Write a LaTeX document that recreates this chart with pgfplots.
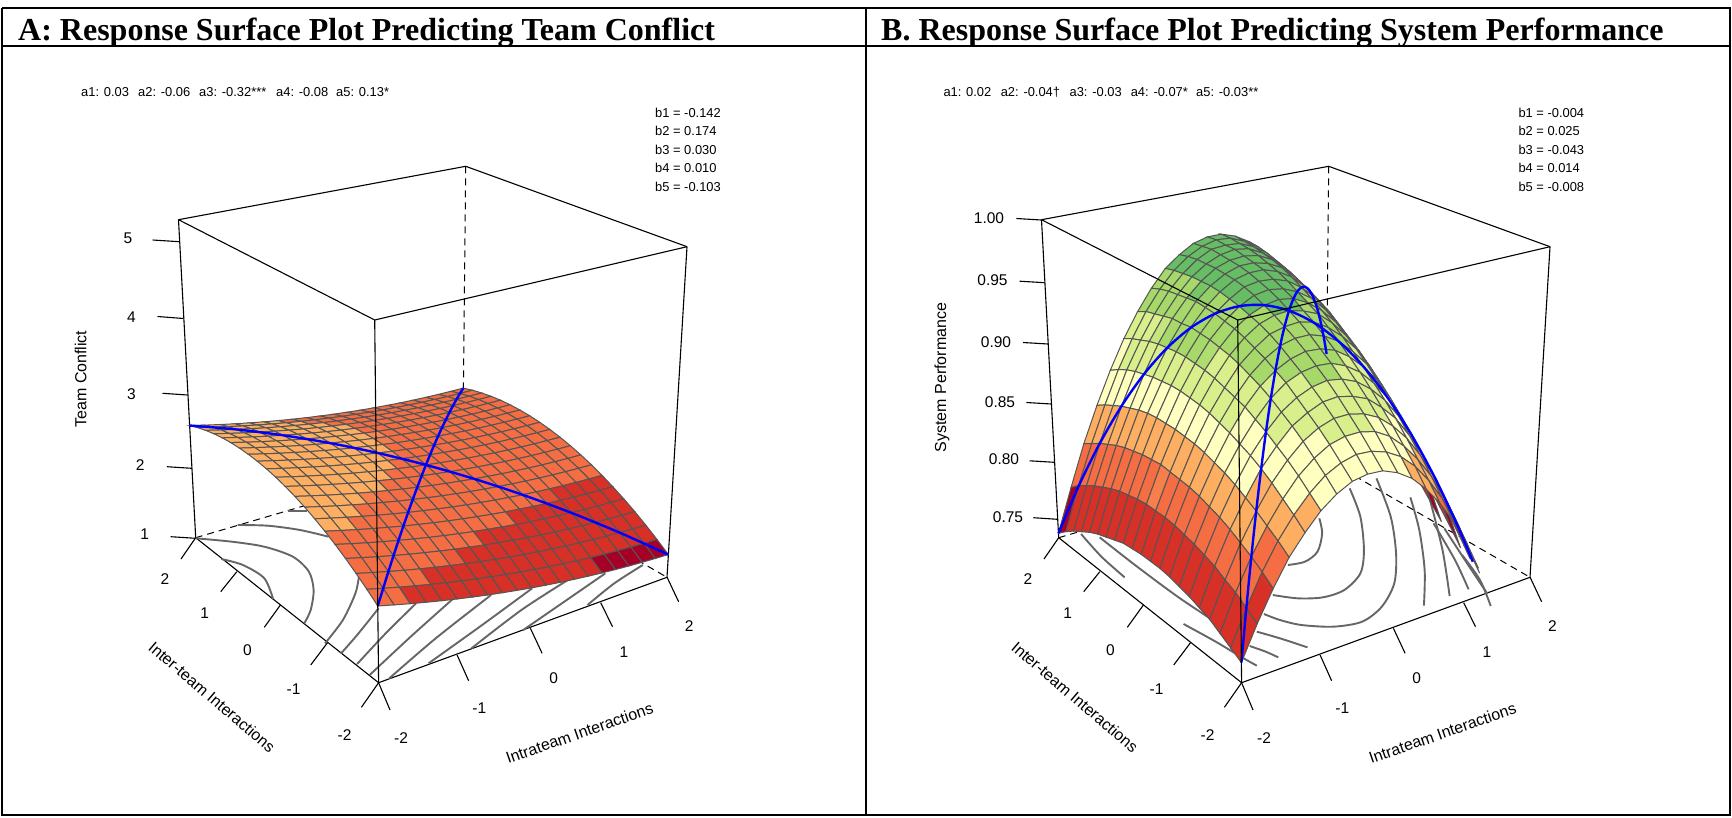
\documentclass[border=0pt]{standalone}
\usepackage{pgfplots}
\usepackage{graphicx}
\usepackage{fontspec}
\pgfplotsset{compat=1.18}
\setmainfont{Liberation Sans}
\newfontfamily\tit{Liberation Serif}
\newcommand\PX[3]{((486.4+91.375*(#1)-37.475*(#2)-33.9*(#3))/(1.14215+0.0289*(#1)+0.042175*(#2)-0.08*(#3)))}
\newcommand\PY[3]{((636.25-9.65*(#1)-13.575*(#2)-388.3*(#3))/(1.14215+0.0289*(#1)+0.042175*(#2)-0.08*(#3)))}
\newcommand\gu{(2-0.2*(\coordindex-21*floor((\coordindex+0.5)/21)))}
\newcommand\gv{(2-0.2*floor((\coordindex+0.5)/21))}
\newcommand\wA{((\thisrowno{0}-1)/4.27)}
\newcommand\wB{((\thisrowno{0}-0.734)/0.266)}
\newcommand\lwA{((\thisrowno{2}-1)/4.27)}
\newcommand\lwB{((\thisrowno{2}-0.734)/0.266)}
\definecolor{cont}{HTML}{666666}
\definecolor{facet}{HTML}{555555}
\pgfplotsset{
  rsa/.style={surf,shader=faceted,faceted color=facet,line width=1pt,mesh/rows=21,
    unbounded coords=jump,
    colormap={rsamap}{rgb255(0cm)=(165,0,38) rgb255(0.98cm)=(165,0,38) rgb255(1cm)=(215,48,39) rgb255(1.98cm)=(215,48,39) rgb255(2cm)=(244,109,67) rgb255(2.98cm)=(244,109,67) rgb255(3cm)=(253,174,97) rgb255(3.98cm)=(253,174,97) rgb255(4cm)=(255,255,191) rgb255(4.98cm)=(255,255,191) rgb255(5cm)=(217,239,139) rgb255(5.98cm)=(217,239,139) rgb255(6cm)=(166,217,106) rgb255(6.98cm)=(166,217,106) rgb255(7cm)=(102,189,99) rgb255(7.98cm)=(102,189,99) rgb255(8cm)=(26,152,80) rgb255(9cm)=(26,152,80)}},
  k/.style={draw=black,line width=1.1pt,no marks},
  ct/.style={draw=cont,line width=1.9pt,no marks,smooth},
  blueline/.style={draw=blue,line width=2.4pt,no marks,smooth},
}
\tikzset{lbl/.style={inner sep=0pt,font=\fontsize{15.5}{16}\selectfont},
 ann/.style={inner sep=0pt,anchor=base west,font=\fontsize{12.9}{13}\selectfont},
 axl/.style={inner sep=0pt,font=\fontsize{16}{17}\selectfont}}
\newcommand\boxback[1]{
 \addplot[k,x filter/.expression={x+#1}] coordinates {(178.5,219.7)(465.7,166.3)(687,246.7)};
 \addplot[k,x filter/.expression={x+#1},dash pattern=on 7pt off 5pt,line width=1pt] coordinates {(465.7,166.3)(462.7,459.2)};
 \addplot[k,x filter/.expression={x+#1},dash pattern=on 7pt off 5pt,line width=1pt] coordinates {(195.7,537.7)(462.7,459.2)(667,577.3)};
 \addplot[k,x filter/.expression={x+#1}] coordinates {(178.5,219.7)(195.7,537.7)(378.6,682.7)(667,577.3)(687,246.7)};
 \addplot[k,x filter/.expression={x+#1}] coordinates {(378.6,682.7)(390,710)};
 \addplot[k,x filter/.expression={x+#1}] coordinates {(457.1,655)(468.6,680.7)};
 \addplot[k,x filter/.expression={x+#1}] coordinates {(530.4,628.3)(542.1,653.3)};
 \addplot[k,x filter/.expression={x+#1}] coordinates {(600.7,602.7)(612.5,626.7)};
 \addplot[k,x filter/.expression={x+#1}] coordinates {(667.1,577.3)(678.6,601.7)};
 \addplot[k,x filter/.expression={x+#1}] coordinates {(378.6,682.7)(361.4,707.3)};
 \addplot[k,x filter/.expression={x+#1}] coordinates {(327.5,642.7)(310.7,665)};
 \addplot[k,x filter/.expression={x+#1}] coordinates {(280.4,605)(264.3,627.3)};
 \addplot[k,x filter/.expression={x+#1}] coordinates {(236.8,571.7)(220.7,591.7)};
 \addplot[k,x filter/.expression={x+#1}] coordinates {(195.7,537.7)(181,559)};
}
\newcommand\boxfront[1]{
 \addplot[k,x filter/.expression={x+#1}] coordinates {(178.5,219.7)(374.7,320)(687,246.7)};
 \addplot[k,x filter/.expression={x+#1}] coordinates {(374.7,320)(378.6,682.7)};
}
\newcommand\floorlabels[1]{
 \node[lbl,xshift=#1] at (axis cs:401,738) {-2};
 \node[lbl,xshift=#1] at (axis cs:479.3,707.7) {-1};
 \node[lbl,xshift=#1] at (axis cs:553.6,678.3) {0};
 \node[lbl,xshift=#1] at (axis cs:623.9,651.7) {1};
 \node[lbl,xshift=#1] at (axis cs:689.3,626) {2};
 \node[lbl,xshift=#1] at (axis cs:344.6,734.6) {-2};
 \node[lbl,xshift=#1] at (axis cs:293.6,689.3) {-1};
 \node[lbl,xshift=#1] at (axis cs:247.5,650) {0};
 \node[lbl,xshift=#1] at (axis cs:204.6,613.3) {1};
 \node[lbl,xshift=#1] at (axis cs:165,579.3) {2};
 \node[axl,xshift=#1,rotate=-40.5] at (axis cs:212,697) {Inter-team Interactions};
 \node[axl,xshift=#1,rotate=19.3] at (axis cs:579.5,733) {Intrateam Interactions};
}
\begin{document}
\begin{tikzpicture}
\begin{axis}[width=1732pt,height=817pt,scale only axis,hide axis,clip=false,
  xmin=0,xmax=1732,ymin=0,ymax=817,y dir=reverse,enlargelimits=false]
\path (axis cs:0,0) rectangle (axis cs:1732,817);
% frame
\addplot[k,line width=1.6pt] coordinates {(2,8)(1730,8)(1730,815)(2,815)(2,8)};
\addplot[k,line width=1.6pt] coordinates {(2,46)(1730,46)};
\addplot[k,line width=1.6pt] coordinates {(866,8)(866,815)};
% ---------- panel A
\boxback{0}
\addplot[k] coordinates {(152.7,240)(179.3,241.7)};
\addplot[k] coordinates {(157.5,316.5)(183.5,318.5)};
\addplot[k] coordinates {(162.5,393.3)(187.5,395)};
\addplot[k] coordinates {(166.8,466.7)(191.8,468.3)};
\addplot[k] coordinates {(170.7,536.7)(195.7,538.3)};
\addplot[ct] coordinates {(221.4,559)(242.9,565)(264.3,578.3)(273.2,599.3)};
\addplot[ct] coordinates {(195.7,538.3)(232,541.7)(264.3,546.7)(292.9,556.7)(308.9,571.7)(313.6,590)(310.7,610)(304.3,623.3)};
\addplot[ct] coordinates {(237.5,525)(267.9,525.7)(300,530)(328.6,536.7)};
\addplot[ct] coordinates {(287.5,510.7)(307,510.7)};
\addplot[ct] coordinates {(358.9,576.7)(355.4,593.3)(342.9,620)(325,643.3)};
\addplot[ct,x filter/.expression={150+x/2.8},y filter/.expression={360+y/3}] coordinates {(640,745)(580,825)(535,880)};
\addplot[ct,x filter/.expression={150+x/2.8},y filter/.expression={360+y/3}] coordinates {(745,730)(660,820)(580,912)};
\addplot[ct,x filter/.expression={150+x/2.8},y filter/.expression={360+y/3}] coordinates {(850,715)(730,830)(615,945)};
\addplot[ct,x filter/.expression={150+x/2.8},y filter/.expression={360+y/3}] coordinates {(955,705)(800,835)(670,955)};
\addplot[ct,x filter/.expression={150+x/2.8},y filter/.expression={360+y/3}] coordinates {(1070,685)(930,795)(780,910)};
\addplot[ct,x filter/.expression={150+x/2.8},y filter/.expression={360+y/3}] coordinates {(1170,660)(1040,750)(900,865)};
\addplot[ct,x filter/.expression={150+x/2.8},y filter/.expression={360+y/3}] coordinates {(1275,640)(1160,725)(1045,810)};
\addplot[ct,x filter/.expression={150+x/2.8},y filter/.expression={360+y/3}] coordinates {(1380,615)(1300,670)(1225,735)};
\addplot[rsa,point meta={(\thisrowno{0}-1)/0.457},point meta min=0,point meta max=9] table[header=false,
  x expr={\PX{\gu}{\gv}{\wA}},y expr={\PY{\gu}{\gv}{\wA}}] {
2.092
2.094
2.098
2.104
2.113
2.124
2.138
2.154
2.172
2.193
2.216
2.242
2.270
2.300
2.333
2.368
2.406
2.446
2.488
2.533
2.580
2.132
2.134
2.138
2.145
2.154
2.166
2.180
2.196
2.215
2.236
2.260
2.286
2.314
2.345
2.378
2.414
2.452
2.492
2.535
2.580
2.628
2.163
2.165
2.170
2.177
2.187
2.199
2.213
2.230
2.249
2.271
2.295
2.321
2.350
2.381
2.415
2.451
2.489
2.530
2.573
2.619
2.667
2.186
2.189
2.194
2.201
2.211
2.224
2.239
2.256
2.275
2.297
2.322
2.349
2.378
2.409
2.443
2.480
2.519
2.560
2.603
2.649
2.698
2.201
2.204
2.209
2.217
2.228
2.241
2.256
2.273
2.293
2.316
2.341
2.368
2.397
2.429
2.464
2.501
2.540
2.581
2.625
2.672
2.721
2.207
2.211
2.217
2.225
2.236
2.249
2.265
2.283
2.303
2.326
2.351
2.379
2.409
2.441
2.476
2.513
2.553
2.595
2.639
2.686
2.735
2.205
2.209
2.216
2.225
2.236
2.249
2.265
2.284
2.305
2.328
2.353
2.381
2.412
2.445
2.480
2.517
2.557
2.600
2.645
2.692
2.741
2.195
2.200
2.207
2.216
2.227
2.241
2.258
2.277
2.298
2.321
2.347
2.376
2.407
2.440
2.475
2.513
2.554
2.597
2.642
2.689
2.739
2.177
2.182
2.189
2.199
2.211
2.225
2.242
2.261
2.283
2.307
2.333
2.362
2.393
2.427
2.463
2.501
2.542
2.585
2.631
2.679
2.729
2.151
2.156
2.164
2.174
2.186
2.201
2.218
2.238
2.260
2.284
2.311
2.340
2.372
2.406
2.442
2.481
2.522
2.566
2.612
2.660
2.711
2.116
2.122
2.130
2.140
2.153
2.168
2.186
2.206
2.228
2.253
2.280
2.310
2.342
2.376
2.413
2.452
2.494
2.538
2.584
2.633
2.684
2.073
2.079
2.088
2.098
2.112
2.127
2.145
2.166
2.188
2.214
2.241
2.271
2.304
2.338
2.376
2.415
2.457
2.502
2.548
2.598
2.649
2.022
2.028
2.037
2.048
2.062
2.078
2.096
2.117
2.140
2.166
2.194
2.224
2.257
2.292
2.330
2.370
2.412
2.457
2.504
2.554
2.606
1.963
1.969
1.979
1.990
2.004
2.021
2.039
2.061
2.084
2.110
2.139
2.169
2.203
2.238
2.276
2.317
2.359
2.405
2.452
2.502
2.555
1.895
1.902
1.912
1.924
1.938
1.955
1.974
1.996
2.020
2.046
2.075
2.106
2.140
2.176
2.214
2.255
2.298
2.344
2.392
2.442
2.495
1.819
1.827
1.837
1.849
1.864
1.881
1.901
1.923
1.947
1.974
2.003
2.035
2.069
2.105
2.144
2.185
2.229
2.275
2.323
2.374
2.427
1.735
1.743
1.753
1.766
1.781
1.799
1.819
1.841
1.866
1.893
1.923
1.955
1.989
2.026
2.065
2.107
2.151
2.197
2.246
2.297
2.351
1.643
1.651
1.662
1.675
1.691
1.709
1.729
1.752
1.777
1.805
1.835
1.867
1.902
1.939
1.979
2.021
2.065
2.112
2.161
2.213
2.267
1.542
1.551
1.562
1.576
1.592
1.610
1.631
1.654
1.680
1.708
1.738
1.771
1.806
1.844
1.884
1.926
1.971
2.018
2.068
2.120
2.174
1.433
1.442
1.454
1.468
1.484
1.503
1.524
1.548
1.574
1.602
1.633
1.666
1.702
1.740
1.780
1.823
1.868
1.916
1.966
2.018
2.073
1.316
1.326
1.338
1.352
1.369
1.388
1.410
1.434
1.460
1.489
1.520
1.554
1.590
1.628
1.669
1.712
1.758
1.806
1.856
1.909
1.964
};
\addplot[blueline] table[header=false,x expr={\PX{\thisrowno{0}}{\thisrowno{1}}{\lwA}},y expr={\PY{\thisrowno{0}}{\thisrowno{1}}{\lwA}}] {
-2 -2 1.964
-1.6 -1.6 2.0675
-1.2 -1.2 2.1509
-0.8 -0.8 2.2141
-0.4 -0.4 2.2571
0 0 2.28
0.4 0.4 2.2827
0.8 0.8 2.2653
1.2 1.2 2.2277
1.6 1.6 2.1699
2 2 2.092
};
\addplot[blueline] table[header=false,x expr={\PX{\thisrowno{0}}{\thisrowno{1}}{\lwA}},y expr={\PY{\thisrowno{0}}{\thisrowno{1}}{\lwA}}] {
-2 2 2.58
-1.6 1.6 2.5731
-1.2 1.2 2.5397
-0.8 0.8 2.4797
-0.4 0.4 2.3931
0 0 2.28
0.4 -0.4 2.1403
0.8 -0.8 1.9741
1.2 -1.2 1.7813
1.6 -1.6 1.5619
2 -2 1.316
};
\boxfront{0}
% ---------- panel B
\boxback{863}
\addplot[k] coordinates {(1016.3,218.5)(1041.3,220)};
\addplot[k] coordinates {(1019.7,281.2)(1044.7,282.7)};
\addplot[k] coordinates {(1023,342.5)(1048,344)};
\addplot[k] coordinates {(1026.3,402.5)(1051.3,404)};
\addplot[k] coordinates {(1029.5,460.8)(1054.5,462.3)};
\addplot[k] coordinates {(1033.3,517.7)(1057.6,519.3)};
\addplot[ct,x filter/.expression={1030+x/2.8},y filter/.expression={460+y/3}] coordinates {(810,175)(818,220)(805,275)(770,305)(722,315)};
\addplot[ct,x filter/.expression={1030+x/2.8},y filter/.expression={460+y/3}] coordinates {(895,85)(925,170)(935,270)(925,340)(880,390)(820,412)(750,415)(680,405)};
\addplot[ct,x filter/.expression={1030+x/2.8},y filter/.expression={460+y/3}] coordinates {(970,55)(1010,170)(1025,280)(1020,370)(985,440)(930,485)(850,500)(760,495)(700,480)(655,462)};
\addplot[ct,x filter/.expression={1030+x/2.8},y filter/.expression={460+y/3}] coordinates {(1065,112)(1090,210)(1105,330)(1103,437)};
\addplot[ct,x filter/.expression={1030+x/2.8},y filter/.expression={460+y/3}] coordinates {(1120,120)(1155,270)(1175,408)};
\addplot[ct,x filter/.expression={1030+x/2.8},y filter/.expression={460+y/3}] coordinates {(1130,190)(1190,300)(1228,388)};
\addplot[ct,x filter/.expression={1030+x/2.8},y filter/.expression={460+y/3}] coordinates {(1160,205)(1230,320)(1280,400)};
\addplot[ct,x filter/.expression={1030+x/2.8},y filter/.expression={460+y/3}] coordinates {(1210,285)(1260,360)(1290,438)};
\addplot[ct,x filter/.expression={1030+x/2.8},y filter/.expression={460+y/3}] coordinates {(635,515)(700,535)(777,562)};
\addplot[ct,x filter/.expression={1030+x/2.8},y filter/.expression={460+y/3}] coordinates {(615,558)(660,575)(695,592)};
\addplot[ct,x filter/.expression={1030+x/2.8},y filter/.expression={460+y/3}] coordinates {(430,492)(520,545)(590,590)(635,617)};
\addplot[ct,x filter/.expression={1030+x/2.8},y filter/.expression={460+y/3}] coordinates {(143,222)(200,290)(265,352)};
\addplot[ct,x filter/.expression={1030+x/2.8},y filter/.expression={460+y/3}] coordinates {(195,232)(300,320)(420,415)(540,500)};
\addplot[rsa,point meta={(\thisrowno{0}-0.734)/0.266*9},point meta min=0,point meta max=9] table[header=false,
  x expr={\thisrowno{0}<0.734 ? nan : 863+\PX{\gu}{\gv}{\wB}},y expr={\thisrowno{0}<0.734 ? nan : \PY{\gu}{\gv}{\wB}}] {
0.834
0.862
0.886
0.907
0.925
0.939
0.950
0.957
0.961
0.961
0.958
0.951
0.942
0.928
0.911
0.891
0.867
0.840
0.810
0.775
0.738
0.829
0.858
0.883
0.904
0.923
0.937
0.949
0.956
0.961
0.962
0.959
0.953
0.944
0.931
0.915
0.895
0.872
0.845
0.815
0.782
0.745
0.824
0.853
0.879
0.901
0.920
0.935
0.947
0.955
0.960
0.961
0.960
0.954
0.945
0.933
0.917
0.898
0.876
0.849
0.820
0.787
0.751
0.819
0.848
0.874
0.897
0.916
0.932
0.944
0.953
0.959
0.961
0.959
0.954
0.946
0.934
0.919
0.901
0.879
0.853
0.824
0.792
0.756
0.812
0.842
0.869
0.892
0.912
0.928
0.941
0.951
0.957
0.959
0.958
0.954
0.946
0.935
0.921
0.903
0.881
0.856
0.828
0.796
0.761
0.805
0.836
0.863
0.887
0.907
0.924
0.937
0.948
0.954
0.957
0.957
0.953
0.946
0.936
0.921
0.904
0.883
0.859
0.831
0.800
0.765
0.797
0.829
0.856
0.881
0.902
0.919
0.933
0.944
0.951
0.955
0.955
0.952
0.945
0.935
0.922
0.905
0.884
0.861
0.833
0.803
0.768
0.789
0.821
0.849
0.874
0.895
0.914
0.928
0.939
0.947
0.951
0.952
0.950
0.943
0.934
0.921
0.905
0.885
0.862
0.835
0.805
0.771
0.780
0.812
0.841
0.867
0.889
0.907
0.922
0.934
0.942
0.947
0.949
0.947
0.941
0.932
0.920
0.904
0.885
0.862
0.836
0.807
0.774
0.770
0.803
0.833
0.859
0.881
0.900
0.916
0.928
0.937
0.943
0.945
0.943
0.938
0.930
0.918
0.903
0.884
0.862
0.837
0.808
0.775
0.760
0.793
0.824
0.850
0.873
0.893
0.909
0.922
0.932
0.937
0.940
0.939
0.935
0.927
0.916
0.901
0.883
0.861
0.836
0.808
0.776
0.749
0.783
0.814
0.841
0.865
0.885
0.902
0.915
0.925
0.932
0.935
0.934
0.931
0.923
0.913
0.898
0.881
0.860
0.835
0.808
0.776
0.738
0.772
0.803
0.831
0.855
0.876
0.894
0.907
0.918
0.925
0.929
0.929
0.926
0.919
0.909
0.895
0.878
0.858
0.834
0.807
0.776
0.725
0.760
0.792
0.820
0.845
0.867
0.885
0.899
0.910
0.918
0.922
0.923
0.920
0.914
0.905
0.892
0.875
0.855
0.832
0.805
0.775
0.712
0.748
0.780
0.809
0.835
0.857
0.875
0.890
0.902
0.910
0.915
0.916
0.914
0.909
0.900
0.887
0.871
0.852
0.829
0.803
0.773
0.699
0.735
0.768
0.798
0.823
0.846
0.865
0.881
0.893
0.902
0.907
0.909
0.907
0.902
0.894
0.882
0.867
0.848
0.826
0.800
0.771
0.685
0.722
0.755
0.785
0.812
0.835
0.854
0.871
0.883
0.893
0.898
0.901
0.900
0.895
0.888
0.876
0.862
0.843
0.822
0.797
0.768
0.670
0.708
0.741
0.772
0.799
0.823
0.843
0.860
0.873
0.883
0.889
0.892
0.892
0.888
0.881
0.870
0.856
0.838
0.817
0.792
0.765
0.655
0.693
0.727
0.758
0.786
0.810
0.831
0.848
0.862
0.873
0.880
0.883
0.883
0.880
0.873
0.863
0.849
0.832
0.812
0.788
0.760
0.639
0.677
0.712
0.744
0.772
0.797
0.818
0.836
0.851
0.862
0.869
0.873
0.874
0.871
0.865
0.855
0.842
0.826
0.806
0.782
0.755
0.622
0.661
0.697
0.729
0.758
0.783
0.805
0.823
0.838
0.850
0.858
0.863
0.864
0.862
0.856
0.847
0.834
0.819
0.799
0.776
0.750
};
\addplot[blueline] table[header=false,x expr={863+\PX{\thisrowno{0}}{\thisrowno{1}}{\lwB}},y expr={\PY{\thisrowno{0}}{\thisrowno{1}}{\lwB}}] {
-2 -2 0.75
-1.8 -1.8 0.7823
-1.6 -1.6 0.8117
-1.4 -1.4 0.8381
-1.2 -1.2 0.8615
-1 -1 0.882
-0.8 -0.8 0.8995
-0.6 -0.6 0.9141
-0.4 -0.4 0.9257
-0.2 -0.2 0.9343
0 0 0.94
0.2 0.2 0.9427
0.4 0.4 0.9425
0.6 0.6 0.9393
0.8 0.8 0.9331
1 1 0.924
1.2 1.2 0.9119
1.4 1.4 0.8969
1.6 1.6 0.8789
1.8 1.8 0.8579
2 2 0.834
};
\addplot[blueline] table[header=false,x expr={863+\PX{\thisrowno{0}}{\thisrowno{1}}{\lwB}},y expr={\PY{\thisrowno{0}}{\thisrowno{1}}{\lwB}}] {
-2 2 0.738
-1.8 1.8 0.7816
-1.6 1.6 0.82
-1.4 1.4 0.8532
-1.2 1.2 0.8812
-1 1 0.904
-0.8 0.8 0.9216
-0.6 0.6 0.934
-0.4 0.4 0.9412
-0.2 0.2 0.9432
0 0 0.94
0.2 -0.2 0.9316
0.4 -0.4 0.918
0.6 -0.6 0.8992
0.8 -0.8 0.8752
1 -1 0.846
1.2 -1.2 0.8116
1.4 -1.4 0.772
1.53 -1.53 0.7434
};
\boxfront{863}
% ---------- texts
\node[inner sep=0pt,anchor=base west] at (axis cs:18,40) {\tit\bfseries\fontsize{32}{33}\selectfont A: Response Surface Plot Predicting Team Conflict};
\node[inner sep=0pt,anchor=base west] at (axis cs:881,40) {\tit\bfseries\fontsize{32}{33}\selectfont B. Response Surface Plot Predicting System Performance};
\floorlabels{0pt}
\floorlabels{863pt}
\node[lbl] at (axis cs:128,238.6) {5};
\node[lbl] at (axis cs:131.5,317) {4};
\node[lbl] at (axis cs:131.5,394) {3};
\node[lbl] at (axis cs:140.3,465) {2};
\node[lbl] at (axis cs:144.7,534.6) {1};
\node[lbl] at (axis cs:989,218) {1.00};
\node[lbl] at (axis cs:992.5,280.5) {0.95};
\node[lbl] at (axis cs:996,341.7) {0.90};
\node[lbl] at (axis cs:1000,401.7) {0.85};
\node[lbl] at (axis cs:1004,459.3) {0.80};
\node[lbl] at (axis cs:1008,517) {0.75};
\node[axl,rotate=90] at (axis cs:80.6,379) {Team Conflict};
\node[axl,rotate=90] at (axis cs:942,377.5) {System Performance};
\node[ann] at (axis cs:81,96.2) {a1: 0.03};
\node[ann] at (axis cs:138,96.2) {a2: -0.06};
\node[ann] at (axis cs:199,96.2) {a3: -0.32***};
\node[ann] at (axis cs:276,96.2) {a4: -0.08};
\node[ann] at (axis cs:336,96.2) {a5: 0.13*};
\node[ann] at (axis cs:655,117.2) {b1 = -0.142};
\node[ann] at (axis cs:655,135.8) {b2 = 0.174};
\node[ann] at (axis cs:655,154.5) {b3 = 0.030};
\node[ann] at (axis cs:655,172.8) {b4 = 0.010};
\node[ann] at (axis cs:655,191.8) {b5 = -0.103};
\node[ann] at (axis cs:943.3,96.2) {a1: 0.02};
\node[ann] at (axis cs:1000.6,96.2) {a2: -0.04†};
\node[ann] at (axis cs:1069.4,96.2) {a3: -0.03};
\node[ann] at (axis cs:1130.6,96.2) {a4: -0.07*};
\node[ann] at (axis cs:1196,96.2) {a5: -0.03**};
\node[ann] at (axis cs:1518.3,117.2) {b1 = -0.004};
\node[ann] at (axis cs:1518.3,135.8) {b2 = 0.025};
\node[ann] at (axis cs:1518.3,154.5) {b3 = -0.043};
\node[ann] at (axis cs:1518.3,172.8) {b4 = 0.014};
\node[ann] at (axis cs:1518.3,191.8) {b5 = -0.008};
\end{axis}
\end{tikzpicture}
\end{document}
